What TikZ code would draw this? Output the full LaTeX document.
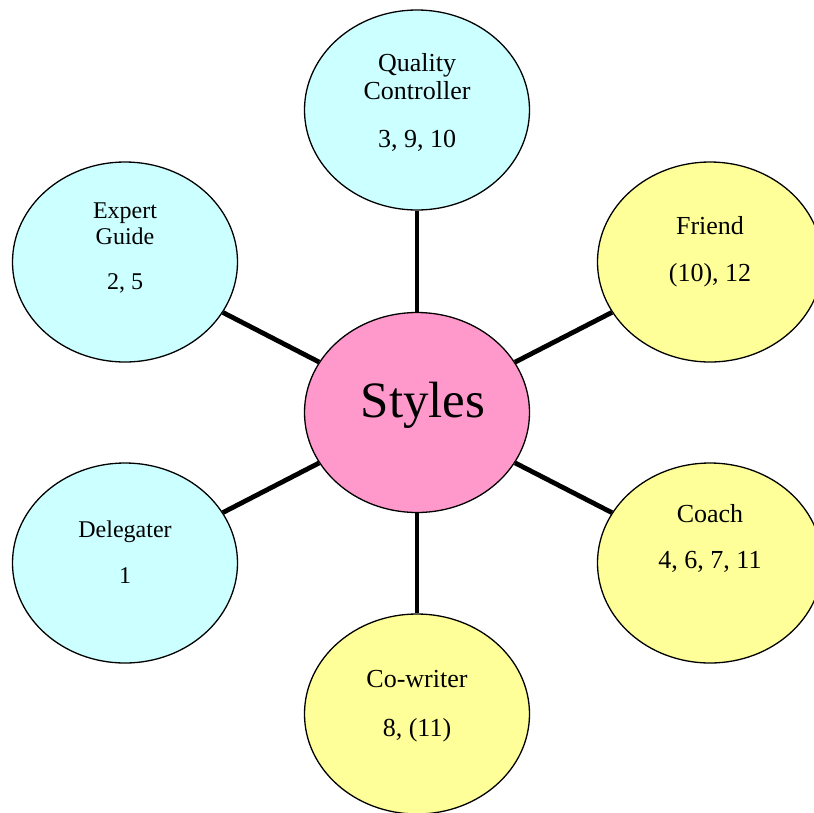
\documentclass[tikz,border=0pt]{standalone}
\usepackage{fontspec}
\setmainfont{Liberation Serif}
\usetikzlibrary{shapes.geometric}
\definecolor{cyanfill}{HTML}{CCFFFF}
\definecolor{yellowfill}{HTML}{FFFF99}
\definecolor{pinkfill}{HTML}{FF99CC}
\begin{document}
\begin{tikzpicture}[x=1pt,y=-1pt,
  bubble/.style={ellipse, draw=black, line width=1.3pt, minimum width=225pt, minimum height=200pt, inner sep=0pt},
  cyanb/.style={bubble, fill=cyanfill},
  yellowb/.style={bubble, fill=yellowfill},
  pinkb/.style={bubble, fill=pinkfill},
  txt/.style={anchor=base, font=\fontsize{26}{30}\selectfont, inner sep=0pt},
  txts/.style={anchor=base, font=\fontsize{24}{28}\selectfont, inner sep=0pt},
  bigtxt/.style={anchor=base, font=\fontsize{51}{60}\selectfont, inner sep=0pt},
  link/.style={line width=4.8pt}]
\useasboundingbox (0,0) rectangle (814,812);
\clip (0,0) rectangle (814,812);
% bubbles
\node[pinkb] (styles) at (417,412.5) {};
\node[cyanb] (qc) at (417,110) {};
\node[cyanb] (expert) at (125,262) {};
\node[yellowb] (friend) at (710,262) {};
\node[cyanb] (deleg) at (125,563) {};
\node[yellowb] (coach) at (710,563) {};
\node[yellowb] (cowriter) at (417,714) {};
% connectors
\draw[link] (styles) -- (qc);
\draw[link] (styles) -- (expert);
\draw[link] (styles) -- (friend);
\draw[link] (styles) -- (deleg);
\draw[link] (styles) -- (coach);
\draw[link] (styles) -- (cowriter);
% texts
\node[bigtxt] (stylest) at (423,417.5) {Styles};
\node[txt] (qct1) at (417,71) {Quality};
\node[txt] (qct2) at (417,99) {Controller};
\node[txt] (qct3) at (417,147) {3, 9, 10};
\node[txts] (expt1) at (125,218) {Expert};
\node[txts] (expt2) at (125,244.5) {Guide};
\node[txts] (expt3) at (125,289) {2, 5};
\node[txt] (frt1) at (710,234) {Friend};
\node[txt] (frt2) at (710,281.5) {(10), 12};
\node[txts] (delt1) at (125,537) {Delegater};
\node[txts] (delt2) at (125,583) {1};
\node[txt] (cot1) at (710,522) {Coach};
\node[txt] (cot2) at (710,568) {4, 6, 7, 11};
\node[txt] (cwt1) at (417,687) {Co-writer};
\node[txt] (cwt2) at (417,736) {8, (11)};
\end{tikzpicture}
\end{document}
